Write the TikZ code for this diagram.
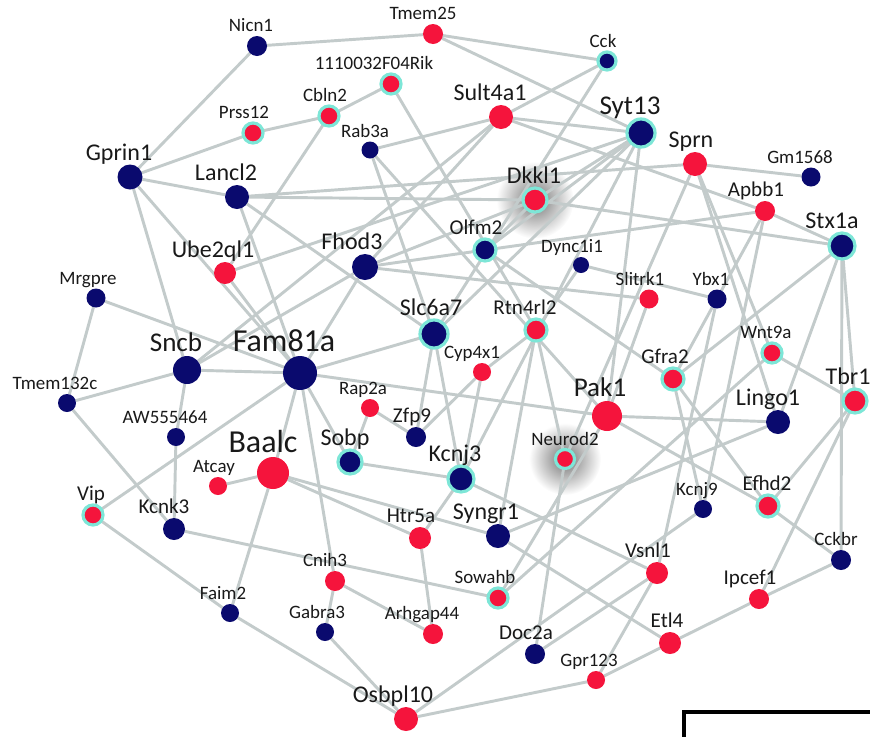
\documentclass[tikz,border=0pt]{standalone}
\usepackage{fontspec}
\setmainfont{Carlito}
\usetikzlibrary{backgrounds}

\definecolor{navyc}{RGB}{10,10,110}
\definecolor{redc}{RGB}{245,20,60}
\definecolor{ringc}{RGB}{125,230,215}
\definecolor{edgec}{RGB}{195,203,203}

\tikzset{
  nv/.style={circle, inner sep=0pt, outer sep=0pt, fill=navyc, minimum size=#1*1.5pt},
  rd/.style={circle, inner sep=0pt, outer sep=0pt, fill=redc, minimum size=#1*1.5pt},
  rg/.style={draw=ringc, line width=2.4pt},
  edge/.style={draw=edgec, line width=2.2pt},
  lbl/.style={inner sep=0pt, text=black!90, text depth=0.25em, text height=0.72em},
  lS/.style={lbl, font=\fontsize{14.2}{16}\selectfont},
  lM/.style={lbl, font=\fontsize{15.8}{18}\selectfont},
  lL/.style={lbl, font=\fontsize{18}{20}\selectfont},
  lX/.style={lbl, font=\fontsize{20.3}{22}\selectfont},
  lXX/.style={lbl, font=\fontsize{24}{26}\selectfont},
}

% gene node: id, x, y, node style, label style, label shift (px), label text
\newcommand{\gene}[7]{%
  \node[#4, label={[#5, xshift=#6*0.75pt]above:#7}] (#1) at (#2,#3) {};}

\begin{document}
\begin{tikzpicture}[x=0.75pt, y=-0.75pt, label distance=0.5pt]
    \useasboundingbox (0,0) rectangle (870,736);

    % genes
    \gene{Nicn1}{257}{46}{nv=10}{lS}{-6}{Nicn1}
    \gene{Tmem25}{433}{34}{rd=10}{lS}{-10}{Tmem25}
    \gene{Cck}{607}{61}{nv=9,rg}{lS}{-4}{Cck}
    \gene{Rik}{391}{84}{rd=10,rg}{lS}{-17}{1110032F04Rik}
    \gene{Cbln2}{329}{116}{rd=10,rg}{lS}{-4}{Cbln2}
    \gene{Prss12}{253}{133}{rd=10,rg}{lS}{-9}{Prss12}
    \gene{Sult4a1}{501}{117}{rd=12}{lL}{-11}{Sult4a1}
    \gene{Rab3a}{370}{150}{nv=8.5}{lS}{-5}{Rab3a}
    \gene{Syt13}{641}{133}{nv=14,rg}{lX}{-11}{Syt13}
    \gene{Sprn}{695}{164}{rd=12}{lL}{-4}{Sprn}
    \gene{Gm1568}{811}{177}{nv=9.5}{lS}{-11}{Gm1568}
    \gene{Gprin1}{130}{177}{nv=12.5}{lL}{-11}{Gprin1}
    \gene{Lancl2}{237}{197}{nv=12}{lL}{-11}{Lancl2}
    \gene{Dkkl1}{535}{200}{rd=12,rg}{lL}{-1}{Dkkl1}
    \gene{Apbb1}{765}{211}{rd=10}{lM}{-9}{Apbb1}
    \gene{Stx1a}{842}{246}{nv=13,rg}{lL}{-10}{Stx1a}
    \gene{Olfm2}{485}{250}{nv=11,rg}{lM}{-9}{Olfm2}
    \gene{Fhod3}{365}{267}{nv=13}{lL}{-13}{Fhod3}
    \gene{Ube2ql1}{225}{273}{rd=11}{lL}{-12}{Ube2ql1}
    \gene{Dync1i1}{581}{265}{nv=8}{lS}{-9}{Dync1i1}
    \gene{Mrgpre}{96}{298}{nv=9.5}{lS}{-8}{Mrgpre}
    \gene{Slitrk1}{649}{299}{rd=9.5}{lS}{-9}{Slitrk1}
    \gene{Ybx1}{717}{299}{nv=9.5}{lS}{-6}{Ybx1}
    \gene{Slc6a7}{434}{334}{nv=14,rg}{lL}{-3}{Slc6a7}
    \gene{Rtn4rl2}{536}{330}{rd=11,rg}{lM}{-11}{Rtn4rl2}
    \gene{Cyp4x1}{482}{372}{rd=9}{lS}{-10}{Cyp4x1}
    \gene{Sncb}{187}{370}{nv=14}{lX}{-11}{Sncb}
    \gene{Fam81a}{300}{373}{nv=17}{lXX}{-16}{Fam81a}
    \gene{Tmem132c}{67}{403}{nv=9}{lS}{-12}{Tmem132c}
    \gene{Wnt9a}{772}{353}{rd=10,rg}{lS}{-6}{Wnt9a}
    \gene{Tbr1}{855}{401}{rd=12,rg}{lL}{-7}{Tbr1}
    \gene{Gfra2}{673}{379}{rd=11,rg}{lM}{-8}{Gfra2}
    \gene{Pak1}{607}{416}{rd=15}{lX}{-7}{Pak1}
    \gene{Lingo1}{778}{422}{nv=12}{lL}{-10}{Lingo1}
    \gene{Rap2a}{370}{408}{rd=9}{lS}{-7}{Rap2a}
    \gene{Zfp9}{416}{437}{nv=10}{lM}{-4}{Zfp9}
    \gene{AW555464}{176}{437}{nv=9}{lS}{-11}{AW555464}
    \gene{Sobp}{350}{462}{nv=12,rg}{lL}{-5}{Sobp}
    \gene{Kcnj3}{461}{479}{nv=13,rg}{lL}{-6}{Kcnj3}
    \gene{Neurod2}{565}{459}{rd=9.5,rg}{lS}{0}{Neurod2}
    \gene{Baalc}{273}{473}{rd=16}{lXX}{-10}{Baalc}
    \gene{Atcay}{218}{486}{rd=9}{lS}{-4}{Atcay}
    \gene{Vip}{93}{515}{rd=10,rg}{lM}{-2}{Vip}
    \gene{Kcnk3}{174}{529}{nv=11}{lM}{-10}{Kcnk3}
    \gene{Kcnj9}{703}{509}{nv=9}{lS}{-6}{Kcnj9}
    \gene{Efhd2}{768}{506}{rd=11,rg}{lM}{-1}{Efhd2}
    \gene{Htr5a}{420}{538}{rd=11}{lM}{-9}{Htr5a}
    \gene{Syngr1}{498}{536}{nv=12}{lL}{-12}{Syngr1}
    \gene{Cckbr}{841}{560}{nv=10}{lS}{-5}{Cckbr}
    \gene{Cnih3}{335}{581}{rd=10}{lS}{-10}{Cnih3}
    \gene{Vsnl1}{657}{573}{rd=11}{lM}{-9}{Vsnl1}
    \gene{Sowahb}{498}{598}{rd=10,rg}{lS}{-13}{Sowahb}
    \gene{Ipcef1}{759}{599}{rd=10}{lM}{-9}{Ipcef1}
    \gene{Faim2}{230}{613}{nv=9}{lS}{-7}{Faim2}
    \gene{Gabra3}{325}{632}{nv=9}{lS}{-8}{Gabra3}
    \gene{Arhgap44}{433}{634}{rd=10}{lS}{-11}{Arhgap44}
    \gene{Doc2a}{535}{654}{nv=10}{lM}{-9}{Doc2a}
    \gene{Etl4}{670}{643}{rd=11}{lM}{-3}{Etl4}
    \gene{Gpr123}{596}{680}{rd=9}{lS}{-7}{Gpr123}
    \gene{Osbpl10}{406}{719}{rd=12}{lL}{-13}{Osbpl10}

    \begin{scope}[on background layer]
        % glow behind the two highlighted genes
        \shade[inner color=black!55, outer color=white] (Dkkl1) circle (29pt);
        \shade[inner color=black!55, outer color=white] (Neurod2) circle (27pt);

        % interactions
        \foreach \a/\b in {Nicn1/Tmem25, Nicn1/Gprin1, Tmem25/Cck, Tmem25/Syt13,
            Rik/Cbln2, Rik/Rtn4rl2, Cbln2/Prss12, Cbln2/Ube2ql1,
            Prss12/Gprin1, Gprin1/Lancl2, Gprin1/Sncb, Gprin1/Fam81a,
            Lancl2/Sprn, Lancl2/Dkkl1, Lancl2/Slc6a7, Lancl2/Fam81a,
            Cck/Sult4a1, Cck/Slc6a7, Sult4a1/Syt13, Sult4a1/Rab3a,
            Sult4a1/Fhod3, Sult4a1/Sncb, Sult4a1/Apbb1, Rab3a/Slc6a7, Rab3a/Pak1,
            Syt13/Dkkl1, Syt13/Olfm2, Syt13/Slc6a7, Syt13/Kcnj3, Syt13/Pak1,
            Syt13/Ube2ql1, Sprn/Gm1568, Sprn/Wnt9a, Sprn/Lingo1, Sprn/Neurod2,
            Dkkl1/Stx1a, Dkkl1/Olfm2, Dkkl1/Fhod3, Apbb1/Stx1a, Apbb1/Olfm2,
            Apbb1/Kcnj9, Apbb1/Gfra2, Stx1a/Gfra2, Stx1a/Lingo1, Stx1a/Tbr1,
            Stx1a/Cckbr, Olfm2/Fhod3, Olfm2/Gfra2, Fhod3/Slitrk1, Fhod3/Fam81a,
            Fhod3/Sncb, Ube2ql1/Fam81a, Dync1i1/Ybx1, Dync1i1/Rtn4rl2,
            Slitrk1/Pak1, Ybx1/Vsnl1, Mrgpre/Tmem132c, Mrgpre/Fam81a,
            Tmem132c/Sncb, Tmem132c/Kcnk3, Sncb/Fam81a, Sncb/AW555464,
            Fam81a/Slc6a7, Fam81a/Pak1, Fam81a/Baalc, Fam81a/Sobp,
            Fam81a/Cnih3, Fam81a/Vip, Slc6a7/Zfp9, Slc6a7/Kcnj3,
            Rtn4rl2/Cyp4x1, Rtn4rl2/Neurod2, Rtn4rl2/Syngr1, Cyp4x1/Zfp9,
            Cyp4x1/Kcnj3, Wnt9a/Tbr1, Wnt9a/Sowahb, Tbr1/Ipcef1, Tbr1/Efhd2,
            Gfra2/Efhd2, Gfra2/Kcnj9, Pak1/Lingo1, Pak1/Efhd2, Pak1/Sowahb,
            Lingo1/Syngr1, Rap2a/Zfp9, Rap2a/Sobp, AW555464/Kcnk3,
            Sobp/Kcnj3, Kcnj3/Htr5a, Kcnj3/Vsnl1, Neurod2/Doc2a,
            Baalc/Atcay, Baalc/Faim2, Baalc/Htr5a, Baalc/Syngr1,
            Vip/Faim2, Kcnk3/Sowahb, Kcnj9/Osbpl10, Efhd2/Cckbr,
            Htr5a/Arhgap44, Syngr1/Etl4, Cckbr/Ipcef1, Cnih3/Arhgap44,
            Cnih3/Gabra3, Vsnl1/Doc2a, Vsnl1/Gpr123, Ipcef1/Etl4,
            Faim2/Osbpl10, Gabra3/Osbpl10, Etl4/Gpr123, Gpr123/Osbpl10} {
            \draw[edge] (\a) -- (\b);
        }
    \end{scope}

    % frame of the next panel
    \draw[line width=2.4pt] (684,745) |- (880,712);
\end{tikzpicture}
\end{document}
